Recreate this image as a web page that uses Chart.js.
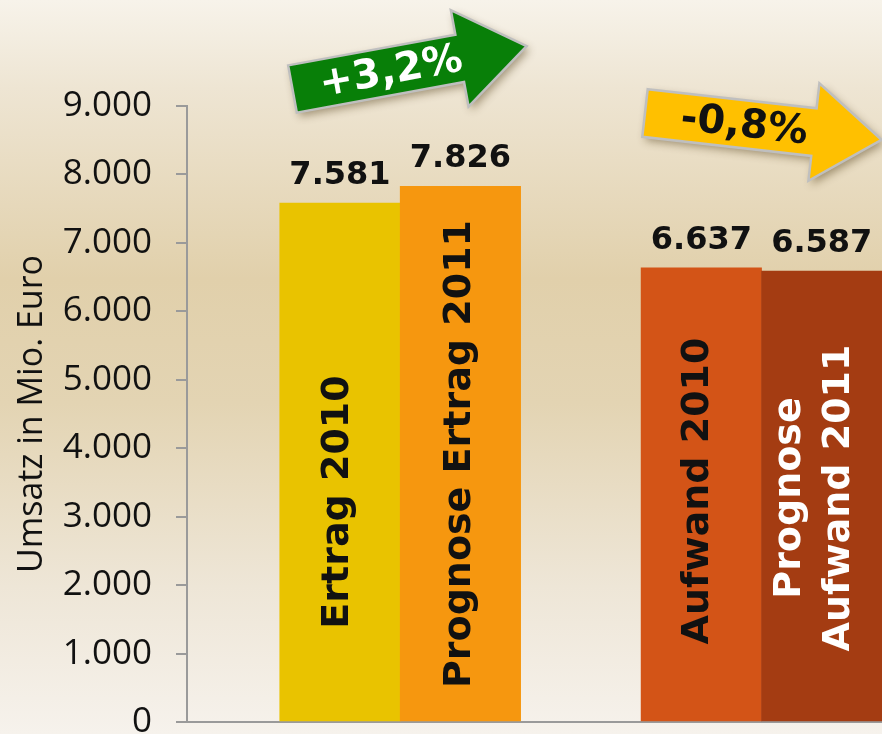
<!DOCTYPE html>
<html>
<head>
<meta charset="utf-8">
<script src="https://cdn.jsdelivr.net/npm/chart.js@4.4.1/dist/chart.umd.min.js"></script>
<style>
  html, body { margin: 0; padding: 0; background: #f3ede2; }
  canvas { display: block; }
</style>
</head>
<body>
<canvas id="c" width="882" height="734"></canvas>
<script>
// ---- data ----
const categories = ['Ertrag 2010', 'Prognose Ertrag 2011', 'Aufwand 2010', 'Prognose Aufwand 2011'];
const values = [7581, 7826, 6637, 6587];
const groupOf = [0, 0, 1, 1];          // which pair each bar belongs to
const memberOf = [0, 1, 0, 1];         // position inside the pair
const yTickValues = [0, 1000, 2000, 3000, 4000, 5000, 6000, 7000, 8000, 9000];
const changeLabels = ['+3,2%', '-0,8%'];
const yTitle = 'Umsatz in Mio. Euro';

// ---- styles ----
const barColors = ['#E9C300', '#F6970F', '#D35417', '#A43C12'];
const barLabelLines = [['Ertrag 2010'], ['Prognose Ertrag 2011'], ['Aufwand 2010'], ['Prognose', 'Aufwand 2011']];
const barLabelColors = ['#111', '#111', '#111', '#ffffff'];
const barLabelDx = [-2, 0, -3, -7];
const barLabelCy = [502, 454, 491, 498];

function fmt(v) {
  return String(v).replace(/\B(?=(\d{3})+(?!\d))/g, '.');
}

const slot = i => groupOf[i] * 3 + memberOf[i] + 1;

const bgPlugin = {
  id: 'bg',
  beforeDraw(chart) {
    const ctx = chart.ctx, h = chart.height, w = chart.width;
    const g = ctx.createLinearGradient(0, 0, 0, h);
    g.addColorStop(0, '#f7f3ea');
    g.addColorStop(0.12, '#eee5d3');
    g.addColorStop(0.38, '#e1d0ab');
    g.addColorStop(0.55, '#e3d4b3');
    g.addColorStop(0.8, '#eee6d7');
    g.addColorStop(1, '#f6f2ec');
    ctx.save();
    ctx.fillStyle = g;
    ctx.fillRect(0, 0, w, h);
    ctx.restore();
  }
};

function drawArrow(ctx, cx, cy, angle, fill, text, textColor) {
  ctx.save();
  ctx.translate(cx, cy);
  ctx.rotate(angle);
  ctx.beginPath();
  ctx.moveTo(0, -24);
  ctx.lineTo(170, -24);
  ctx.lineTo(170, -49);
  ctx.lineTo(238, 0);
  ctx.lineTo(170, 49);
  ctx.lineTo(170, 24);
  ctx.lineTo(0, 24);
  ctx.closePath();
  ctx.shadowColor = 'rgba(70,50,10,0.45)';
  ctx.shadowBlur = 8;
  ctx.shadowOffsetX = 3;
  ctx.shadowOffsetY = 4;
  ctx.fillStyle = fill;
  ctx.fill();
  ctx.shadowColor = 'transparent';
  ctx.lineWidth = 2.5;
  ctx.strokeStyle = '#bfbfbf';
  ctx.lineJoin = 'miter';
  ctx.stroke();
  ctx.fillStyle = textColor;
  ctx.font = 'bold 40px "DejaVu Sans"';
  ctx.textAlign = 'center';
  ctx.textBaseline = 'middle';
  ctx.fillText(text, 100, 2);
  ctx.restore();
}

const labelsPlugin = {
  id: 'labels',
  afterDatasetsDraw(chart) {
    const ctx = chart.ctx;
    const meta = chart.getDatasetMeta(0);
    meta.data.forEach((bar, i) => {
      // value on top
      ctx.save();
      ctx.font = 'bold 32px "DejaVu Sans"';
      ctx.fillStyle = '#111';
      ctx.textAlign = 'center';
      ctx.textBaseline = 'alphabetic';
      ctx.fillText(fmt(values[i]), bar.x, bar.y - 19);
      ctx.restore();
      // rotated name inside bar
      ctx.save();
      const lines = barLabelLines[i];
      const lh = 49;
      ctx.translate(bar.x + barLabelDx[i], barLabelCy[i]);
      ctx.rotate(-Math.PI / 2);
      ctx.font = 'bold 38px "DejaVu Sans"';
      ctx.fillStyle = barLabelColors[i];
      ctx.textAlign = 'center';
      ctx.textBaseline = 'middle';
      lines.forEach((ln, k) => {
        ctx.fillText(ln, 0, (k - (lines.length - 1) / 2) * lh);
      });
      ctx.restore();
    });
  },
  afterDraw(chart) {
    const ctx = chart.ctx;
    drawArrow(ctx, 292.5, 89, -10.4 * Math.PI / 180, '#087f08', changeLabels[0], '#ffffff');
    drawArrow(ctx, 645, 113, 6.45 * Math.PI / 180, '#FFC000', changeLabels[1], '#111111');
  }
};

new Chart(document.getElementById('c'), {
  type: 'bar',
  data: {
    datasets: [{
      data: categories.map((c, i) => ({ x: slot(i), y: values[i] })),
      backgroundColor: barColors,
      borderWidth: 0,
      barPercentage: 1,
      categoryPercentage: 1
    }]
  },
  options: {
    responsive: false,
    animation: false,
    devicePixelRatio: 1,
    layout: { padding: { top: 106, bottom: 12, left: 0, right: 0 } },
    plugins: { legend: { display: false }, tooltip: { enabled: false } },
    scales: {
      x: {
        type: 'linear',
        offset: false,
        min: -0.27,
        max: 5.5,
        afterBuildTicks: s => { s.ticks = [0, 1, 2, 3, 4, 5].map(v => ({ value: v })); },
        grid: { display: false },
        ticks: { display: false },
        border: { display: true, color: '#9a9a9a', width: 2 },
        afterFit: s => { s.height = 0; }
      },
      y: {
        min: 0,
        max: 9000,
        afterBuildTicks: s => { s.ticks = yTickValues.map(v => ({ value: v })); },
        ticks: {
          font: { family: 'Open Sans', size: 35 },
          color: '#111',
          padding: 24,
          callback: v => fmt(v)
        },
        grid: { drawOnChartArea: false, drawTicks: true, tickLength: 11, color: '#9a9a9a', lineWidth: 2 },
        border: { display: true, color: '#9a9a9a', width: 2 },
        title: {
          display: true,
          text: yTitle,
          font: { family: 'Open Sans', size: 34 },
          color: '#111',
          padding: { top: 12, bottom: 0 }
        },
        afterFit: s => { s.width = 187; s.paddingTop = 0; s.paddingBottom = 0; }
      }
    }
  },
  plugins: [bgPlugin, labelsPlugin]
});
</script>
</body>
</html>
